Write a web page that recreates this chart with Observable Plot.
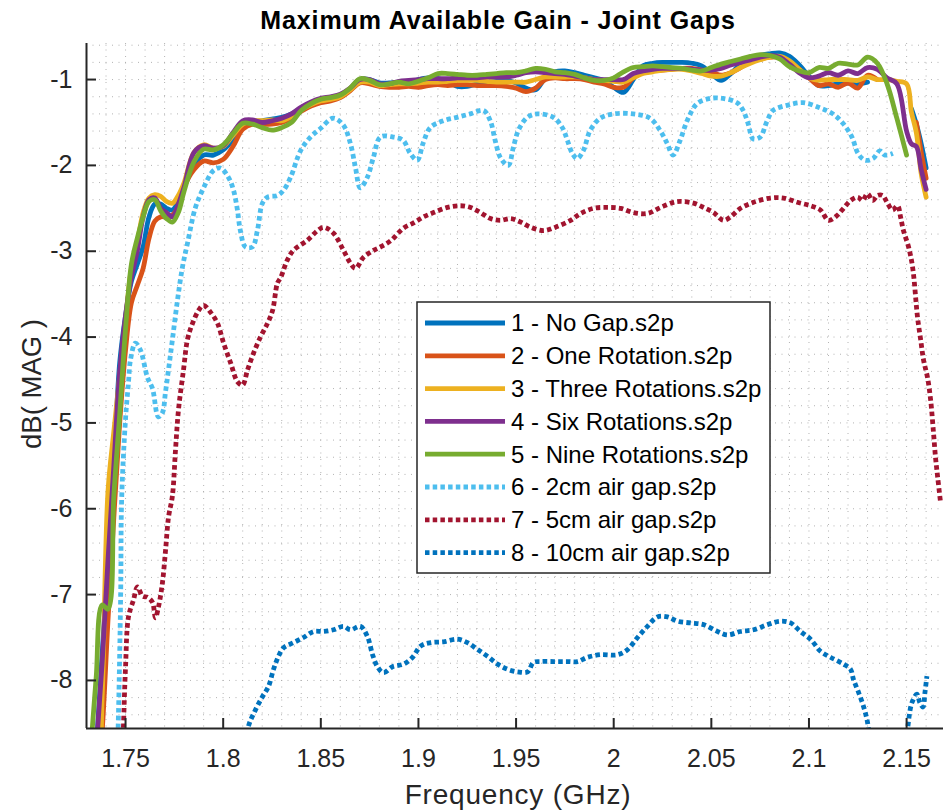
<!DOCTYPE html>
<html><head><meta charset="utf-8">
<script src="https://cdn.jsdelivr.net/npm/d3@7"></script>
<script src="https://cdn.jsdelivr.net/npm/@observablehq/plot@0.6"></script>
<style>
html,body{margin:0;padding:0;background:#fff;}
#wrap{position:relative;width:943px;height:811px;overflow:hidden;font-family:"Liberation Sans",Arial,Helvetica,sans-serif;}
#wrap svg{position:absolute;left:0;top:0;}
</style></head>
<body><div id="wrap"></div>
<script>
// ---------- data ----------
const seriesNames = ["1 - No Gap.s2p","2 - One Rotation.s2p","3 - Three Rotations.s2p","4 - Six Rotations.s2p","5 - Nine Rotations.s2p","6 - 2cm air gap.s2p","7 - 5cm air gap.s2p","8 - 10cm air gap.s2p"];
const seriesColors = ["#0072BD","#D95319","#EDB120","#7E2F8E","#77AC30","#4DBEEE","#A2142F","#0072BD"];
const seriesDotted = [false,false,false,false,false,true,true,true];

const xTickValues = [1.75,1.8,1.85,1.9,1.95,2.0,2.05,2.1,2.15];
const xTickLabels = ["1.75","1.8","1.85","1.9","1.95","2","2.05","2.1","2.15"];
const yTickValues = [-8,-7,-6,-5,-4,-3,-2,-1];
const yTickLabels = ["-8","-7","-6","-5","-4","-3","-2","-1"];
const xDomain = [1.73, 2.1689];
const yDomain = [-8.56, -0.58];

// shared frequency grid for the five solid traces (GHz)
const freqSolid = [1.733,1.735,1.738,1.741,1.744,1.747,1.750,1.753,1.756,1.759,1.762,1.765,1.768,1.771,1.774,1.777,1.780,
 1.785,1.790,1.795,1.800,1.805,1.810,1.815,1.820,1.825,1.830,1.835,1.840,1.845,1.850,1.855,1.860,1.865,1.870,1.875,1.880,
 1.885,1.890,1.895,1.900,1.905,1.910,1.915,1.920,1.925,1.930,1.935,1.940,1.945,1.950,1.955,1.960,1.965,1.970,1.975,1.980,1.985,1.990,1.995,2.000,2.005,2.010,2.015,2.020,2.025,2.030,2.035,
 2.040,2.045,2.050,2.055,2.060,2.065,2.070,2.075,2.080,2.085,2.090,2.095,2.100,
 2.105,2.110,2.115,2.120,2.125,2.130,2.135,2.140,2.145,2.150,
 2.1525,2.155,2.1575,2.160];

const noGap = [-9.6,-8.8,-7.7,-6.6,-5.5,-4.3,-3.75,-3.35,-3.15,-2.95,-2.6,-2.45,-2.45,-2.5,-2.52,-2.42,-2.25,
 -2.0,-1.88,-1.88,-1.82,-1.70,-1.55,-1.50,-1.48,-1.46,-1.44,-1.40,-1.33,-1.27,-1.26,-1.23,-1.19,-1.12,-1.00,-1.00,-1.04,
 -1.04,-1.03,-1.04,-1.00,-0.98,-0.99,-1.02,-1.08,-1.08,-1.05,-1.03,-1.02,-1.01,-1.04,-1.10,-1.12,-0.98,-0.91,-0.90,-0.92,-0.95,-0.98,-1.01,-1.09,-1.15,-1.00,-0.84,-0.81,-0.80,-0.80,-0.80,
 -0.81,-0.84,-0.93,-1.01,-0.93,-0.82,-0.77,-0.72,-0.70,-0.69,-0.73,-0.83,-0.96,
 -1.07,-1.07,-1.05,-1.04,-1.05,-1.03,null,null,null,null,
 -1.34,-1.52,-1.75,-2.03];
const oneRotation = [null,-9.4,-8.6,-7.3,-6.1,-5.0,-4.15,-3.6,-3.4,-3.2,-2.85,-2.65,-2.6,-2.6,-2.58,-2.48,-2.25,
 -2.05,-1.95,-1.97,-1.93,-1.78,-1.58,-1.52,-1.52,-1.52,-1.50,-1.45,-1.37,-1.31,-1.27,-1.25,-1.21,-1.13,-1.04,-1.05,-1.08,
 -1.09,-1.09,-1.08,-1.09,-1.07,-1.06,-1.07,-1.06,-1.06,-1.07,-1.07,-1.07,-1.08,-1.10,-1.14,-1.10,-1.00,-0.98,-0.99,-0.99,-1.00,-1.03,-1.05,-1.09,-1.09,-0.98,-0.92,-0.90,-0.89,-0.88,-0.87,
 -0.87,-0.89,-0.91,-0.95,-0.92,-0.86,-0.80,-0.76,-0.74,-0.74,-0.80,-0.88,-0.98,
 -1.07,-1.05,-1.09,-1.04,-1.10,-0.95,-1.00,null,null,null,
 null,-1.5,-1.85,-2.15];
const threeRotations = [-9.5,-9.5,-8.2,-5.8,-5.1,-4.45,-3.8,-3.2,-2.9,-2.55,-2.38,-2.34,-2.36,-2.42,-2.44,-2.35,-2.2,
 -1.85,-1.76,-1.80,-1.78,-1.65,-1.52,-1.48,-1.48,-1.47,-1.48,-1.43,-1.35,-1.29,-1.25,-1.23,-1.20,-1.12,-1.03,-1.03,-1.07,
 -1.06,-1.05,-1.05,-1.04,-1.03,-1.03,-1.02,-1.01,-1.01,-1.01,-1.02,-1.03,-1.03,-1.03,-1.03,-1.00,-0.97,-0.97,-0.97,-0.97,-0.98,-1.00,-1.01,-1.02,-1.03,-0.98,-0.93,-0.91,-0.89,-0.88,-0.88,
 -0.90,-0.93,-0.96,-0.96,-0.92,-0.86,-0.81,-0.77,-0.74,-0.73,-0.78,-0.88,-0.98,
 -1.01,-1.00,-1.00,-1.00,-1.01,-0.97,-1.00,-1.00,-1.02,-1.05,
 -1.38,-1.62,-2.1,-2.37];
const sixRotations = [-9.6,-8.8,-7.8,-6.6,-5.5,-4.4,-3.75,-3.3,-3.0,-2.6,-2.4,-2.38,-2.5,-2.55,-2.6,-2.45,-2.25,
 -1.85,-1.77,-1.80,-1.77,-1.62,-1.48,-1.47,-1.50,-1.48,-1.45,-1.40,-1.32,-1.26,-1.22,-1.20,-1.17,-1.10,-1.00,-1.00,-1.05,
 -1.05,-1.02,-1.01,-1.00,-0.99,-0.99,-0.99,-0.98,-0.98,-0.98,-0.97,-0.97,-0.97,-0.95,-0.92,-0.91,-0.92,-0.93,-0.94,-0.96,-0.98,-1.00,-1.00,-1.00,-1.00,-0.93,-0.90,-0.88,-0.87,-0.87,-0.87,
 -0.88,-0.89,-0.89,-0.87,-0.83,-0.80,-0.77,-0.74,-0.72,-0.74,-0.82,-0.92,-0.98,
 -0.96,-0.92,-0.95,-0.90,-0.93,-0.86,-0.88,-0.98,-1.05,-1.6,
 -1.75,-1.78,-2.05,-2.28];
const nineRotations = [-8.55,-7.95,-7.12,-7.17,-5.85,-4.9,-3.9,-3.15,-2.85,-2.6,-2.42,-2.4,-2.53,-2.62,-2.66,-2.55,-2.3,
 -1.96,-1.81,-1.82,-1.76,-1.63,-1.51,-1.52,-1.56,-1.59,-1.56,-1.50,-1.36,-1.28,-1.23,-1.21,-1.18,-1.10,-0.99,-1.01,-1.06,
 -1.05,-1.03,-1.05,-1.02,-0.98,-0.93,-0.93,-0.94,-0.95,-0.95,-0.94,-0.93,-0.92,-0.92,-0.90,-0.87,-0.88,-0.91,-0.92,-0.94,-0.98,-1.01,-1.01,-0.98,-0.91,-0.86,-0.85,-0.84,-0.85,-0.86,-0.87,
 -0.89,-0.90,-0.86,-0.82,-0.79,-0.76,-0.73,-0.71,-0.72,-0.76,-0.85,-0.90,-0.92,
 -0.86,-0.87,-0.81,-0.82,-0.83,-0.74,-0.81,-1.05,-1.45,-1.88,
 null,null,null,null];

// 2 cm air gap
const freqGap2 = [1.7455,1.7462,1.7475,1.748,1.750,1.7515,1.7525,1.755,1.7576,1.7612,1.7638,1.7668,1.7689,1.7704,1.772,1.774,1.7766,1.7791,1.7817,1.7858,1.790,1.795,1.7986,1.8027,1.8053,1.8073,1.8088,1.8114,1.815,1.8175,1.8201,1.8227,1.8278,1.8309,1.8345,1.8396,1.8447,1.8498,1.8564,1.8615,1.8651,1.8677,1.8702,1.8738,1.8769,1.8805,1.8871,1.8922,1.8958,1.8994,1.9024,1.906,1.9127,1.9198,1.9265,1.9333,1.9368,1.9393,1.942,1.946,1.9486,1.9512,1.9558,1.9609,1.9691,1.9737,1.9763,1.9788,1.9813,1.9844,1.988,1.9931,1.9997,2.0099,2.0186,2.0237,2.0273,2.0304,2.0340,2.0376,2.0427,2.0494,2.056,2.0632,2.0663,2.0688,2.0714,2.075,2.0786,2.0816,2.0888,2.097,2.1057,2.1123,2.1174,2.122,2.1251,2.1287,2.1328,2.1363,2.1389,2.143];
const gap2cm = [-9.0,-8.55,-7.0,-5.9,-4.95,-4.53,-4.27,-4.07,-4.15,-4.47,-4.6,-4.93,-4.88,-4.65,-4.38,-4.03,-3.57,-3.19,-2.91,-2.49,-2.26,-2.06,-2.03,-2.14,-2.29,-2.52,-2.76,-2.95,-2.95,-2.76,-2.44,-2.37,-2.35,-2.29,-2.14,-1.83,-1.67,-1.57,-1.45,-1.53,-1.74,-2.02,-2.26,-2.14,-1.91,-1.67,-1.67,-1.71,-1.86,-1.94,-1.74,-1.56,-1.48,-1.44,-1.40,-1.36,-1.48,-1.71,-1.91,-2.0,-1.79,-1.59,-1.44,-1.40,-1.44,-1.56,-1.71,-1.86,-1.92,-1.83,-1.59,-1.45,-1.40,-1.40,-1.45,-1.59,-1.74,-1.88,-1.71,-1.48,-1.28,-1.22,-1.22,-1.27,-1.36,-1.51,-1.69,-1.67,-1.48,-1.36,-1.30,-1.27,-1.33,-1.40,-1.51,-1.67,-1.86,-1.94,-1.92,-1.83,-1.88,-1.86];

// 5 cm air gap
const freqGap5 = [1.7482,1.7489,1.750,1.7515,1.7541,1.7561,1.7587,1.7612,1.7638,1.7653,1.7669,1.7689,1.7705,1.772,1.774,1.7756,1.7771,1.7797,1.7817,1.7843,1.7874,1.7899,1.7935,1.7971,1.8002,1.8038,1.8073,1.8099,1.8125,1.8155,1.8191,1.8227,1.8253,1.8278,1.8294,1.8329,1.836,1.8432,1.8483,1.8514,1.8565,1.8616,1.8652,1.8678,1.8719,1.877,1.8806,1.8857,1.8924,1.8975,1.9026,1.9077,1.9149,1.9215,1.9267,1.9318,1.9369,1.942,1.9472,1.9523,1.9574,1.9641,1.9702,1.9779,1.983,1.9897,1.9968,2.0035,2.0101,2.0173,2.024,2.0306,2.0342,2.0409,2.046,2.0511,2.0562,2.0598,2.0649,2.0716,2.0803,2.087,2.0941,2.1008,2.1059,2.110,2.1146,2.1177,2.1213,2.1249,2.1274,2.130,2.1326,2.1351,2.1377,2.1402,2.1428,2.1454,2.1469,2.1484,2.151,2.1531,2.1556,2.1572,2.1587,2.1607,2.1623,2.1638,2.1648,2.1659,2.1674];
const gap5cm = [-9.0,-8.55,-7.84,-7.26,-7.06,-6.91,-7.02,-7.03,-7.09,-7.27,-7.14,-6.86,-6.48,-6.1,-5.85,-5.31,-4.85,-4.38,-4.03,-3.84,-3.69,-3.63,-3.71,-3.84,-4.07,-4.30,-4.52,-4.56,-4.38,-4.19,-4.00,-3.84,-3.69,-3.37,-3.31,-3.10,-2.99,-2.87,-2.76,-2.72,-2.79,-2.99,-3.14,-3.20,-3.07,-2.99,-2.95,-2.88,-2.73,-2.67,-2.60,-2.55,-2.49,-2.47,-2.49,-2.55,-2.62,-2.64,-2.62,-2.66,-2.72,-2.76,-2.72,-2.64,-2.56,-2.50,-2.49,-2.50,-2.55,-2.56,-2.49,-2.43,-2.42,-2.44,-2.49,-2.55,-2.64,-2.60,-2.50,-2.43,-2.38,-2.38,-2.43,-2.47,-2.52,-2.64,-2.58,-2.50,-2.41,-2.37,-2.41,-2.33,-2.41,-2.35,-2.35,-2.44,-2.52,-2.47,-2.60,-2.76,-2.95,-3.19,-3.77,-4.03,-4.27,-4.47,-4.73,-5.12,-5.40,-5.63,-5.93];

// 10 cm air gap
const freqGap10 = [1.8115,1.813,1.8166,1.8201,1.8232,1.8258,1.8283,1.8309,1.836,1.8411,1.8463,1.8514,1.8565,1.8616,1.8652,1.8703,1.8739,1.8765,1.879,1.8821,1.8867,1.8924,1.897,1.9011,1.9062,1.9128,1.920,1.9251,1.9303,1.9354,1.9405,1.9456,1.9507,1.9559,1.9589,1.9625,1.9692,1.9763,1.9815,1.9866,1.9932,2.002,2.0071,2.0122,2.0173,2.0224,2.0276,2.0327,2.0393,2.046,2.0532,2.0583,2.0649,2.0716,2.0788,2.0854,2.0906,2.0957,2.1008,2.1059,2.111,2.1177,2.1213,2.1228,2.1254,2.1279,2.130,2.1315,2.140,2.1495,2.1507,2.1527,2.1553,2.1568,2.1584,2.1594,2.1604];
const gap10cm = [-8.8,-8.53,-8.34,-8.19,-8.07,-7.87,-7.72,-7.62,-7.56,-7.50,-7.43,-7.43,-7.41,-7.37,-7.41,-7.37,-7.49,-7.70,-7.84,-7.91,-7.84,-7.81,-7.73,-7.60,-7.56,-7.55,-7.52,-7.56,-7.64,-7.72,-7.81,-7.87,-7.90,-7.90,-7.79,-7.78,-7.78,-7.78,-7.78,-7.73,-7.70,-7.70,-7.64,-7.50,-7.37,-7.26,-7.26,-7.31,-7.33,-7.35,-7.43,-7.47,-7.43,-7.41,-7.35,-7.31,-7.33,-7.43,-7.52,-7.66,-7.73,-7.81,-7.87,-7.99,-8.14,-8.30,-8.49,-8.8,null,-8.8,-8.53,-8.26,-8.16,-8.26,-8.31,-8.14,-7.95];

const seriesFreqs = [freqSolid,freqSolid,freqSolid,freqSolid,freqSolid,freqGap2,freqGap5,freqGap10];
const seriesValues = [noGap,oneRotation,threeRotations,sixRotations,nineRotations,gap2cm,gap5cm,gap10cm];

// ---------- chart ----------
const W = 943, H = 811;
const font = '"Liberation Sans", Arial, Helvetica, sans-serif';
const xGrid = d3.range(173, 217).map(d => d / 100);
const yGrid = d3.range(-42, -2).map(d => d / 5);
const gridStyle = {stroke: "#a6a6a6", strokeOpacity: 0.85, strokeWidth: 1, strokeDasharray: "1,5.5"};

const lineMarks = seriesNames.map((name, i) => {
  const rows = seriesFreqs[i].map((f, j) => ({f, v: seriesValues[i][j]}));
  return Plot.line(rows, {
    x: "f", y: "v", curve: "catmull-rom", clip: true,
    stroke: seriesColors[i], strokeWidth: 4.8,
    strokeDasharray: seriesDotted[i] ? "4.5,3.2" : null,
    strokeLinecap: seriesDotted[i] ? "butt" : "round",
    strokeLinejoin: "round"
  });
});

const chart = Plot.plot({
  width: W, height: H,
  marginTop: 43, marginBottom: 83, marginLeft: 86, marginRight: 0,
  style: {fontFamily: font, background: "white", overflow: "visible"},
  x: {domain: xDomain},
  y: {domain: yDomain},
  marks: [
    Plot.gridX(xGrid, gridStyle),
    Plot.gridY(yGrid, gridStyle),
    ...lineMarks,
    Plot.ruleX([xDomain[0]], {stroke: "#262626", strokeWidth: 2}),
    Plot.ruleY([yDomain[0]], {stroke: "#262626", strokeWidth: 2}),
    Plot.axisX(xTickValues, {anchor: "bottom", tickSize: -10, tickPadding: 31, fontSize: 25, color: "#262626", stroke: "#262626", strokeWidth: 2,
      tickFormat: d => xTickLabels[xTickValues.indexOf(d)], label: null}),
    Plot.axisY(yTickValues, {anchor: "left", tickSize: -10, tickPadding: 24, fontSize: 25, color: "#262626", stroke: "#262626", strokeWidth: 2,
      tickFormat: d => yTickLabels[yTickValues.indexOf(d)], label: null})
  ]
});

const wrap = document.getElementById("wrap");
wrap.appendChild(chart);

// overlay: title, axis labels, legend
const ov = d3.select(wrap).append("svg").attr("width", W).attr("height", H)
  .attr("font-family", font).style("pointer-events", "none");

ov.append("text").attr("x", 498).attr("y", 29).attr("text-anchor", "middle")
  .attr("font-size", 25).attr("font-weight", "bold").attr("letter-spacing", 0.9).attr("fill", "#000")
  .text("Maximum Available Gain - Joint Gaps");
ov.append("text").attr("x", 518).attr("y", 804).attr("text-anchor", "middle")
  .attr("font-size", 28).attr("letter-spacing", 0.8).attr("fill", "#262626").text("Frequency (GHz)");
ov.append("text").attr("transform", "translate(41,384) rotate(-90)").attr("text-anchor", "middle")
  .attr("font-size", 27.5).attr("fill", "#262626").text("dB( MAG )");

const lg = ov.append("g").attr("transform", "translate(417,302)");
lg.append("rect").attr("width", 353).attr("height", 271).attr("fill", "#fff")
  .attr("stroke", "#262626").attr("stroke-width", 1.5);
seriesNames.forEach((name, i) => {
  const cy = 21 + i * 32.8;
  lg.append("line").attr("x1", 8).attr("x2", 88).attr("y1", cy).attr("y2", cy)
    .attr("stroke", seriesColors[i]).attr("stroke-width", 4.8)
    .attr("stroke-dasharray", seriesDotted[i] ? "4.5,3.2" : null);
  lg.append("text").attr("x", 94).attr("y", cy).attr("dy", "0.35em")
    .attr("font-size", 24).attr("fill", "#000").text(name);
});
</script>
</body></html>
